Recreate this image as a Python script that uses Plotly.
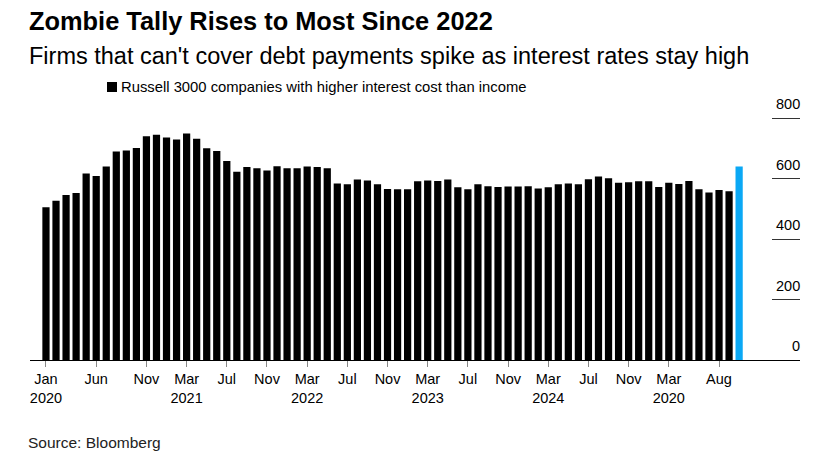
import plotly.graph_objects as go

# Monthly counts, Jan 2020 .. Oct 2025
values = [505, 527, 546, 552, 617, 609, 640, 690, 693, 701, 740, 745,
          736, 729, 749, 732, 700, 691, 658, 623, 638, 634, 627, 641,
          634, 634, 640, 638, 634, 584, 581, 597, 594, 581, 566, 565,
          565, 591, 594, 592, 597, 571, 565, 581, 575, 572, 574, 574,
          575, 567, 571, 581, 584, 581, 598, 607, 601, 586, 588, 591,
          591, 572, 586, 582, 592, 565, 554, 562, 558, 640]
months = list(range(len(values)))
hist_x = months[:-1]
hist_y = values[:-1]
last_x = [months[-1]]
last_y = [values[-1]]

tick_pos = [0, 5, 10, 14, 18, 22, 26, 30, 34, 38, 42, 46, 50, 54, 58, 62, 67]
tick_text = ["Jan<br>2020", "Jun", "Nov", "Mar<br>2021", "Jul", "Nov",
             "Mar<br>2022", "Jul", "Nov", "Mar<br>2023", "Jul", "Nov",
             "Mar<br>2024", "Jul", "Nov", "Mar<br>2020", "Aug"]
y_ticks = [0, 200, 400, 600, 800]
y_tick_text = ["0", "200", "400", "600", "800"]

title = "Zombie Tally Rises to Most Since 2022"
subtitle = "Firms that can't cover debt payments spike as interest rates stay high"
legend_label = "Russell 3000 companies with higher interest cost than income"
source = "Source: Bloomberg"

FONT = "Liberation Sans, Arial, sans-serif"

# page body has an 8px margin
OFF = 8
W, H = 820 - OFF, 465 - OFF
L, R = 30 - OFF, W - (800 - OFF)
T, B = 100 - OFF, H - (360 - OFF)
pw = W - L - R
ph = H - T - B


def px(xp):
    return (xp - OFF - L) / pw


def py(yp):
    return (H - B - (yp - OFF)) / ph


fig = go.Figure()
fig.add_trace(go.Bar(x=hist_x, y=hist_y, marker=dict(color="#000000", line=dict(width=0)),
                     width=0.72, showlegend=False, name=legend_label))
fig.add_trace(go.Bar(x=last_x, y=last_y, marker=dict(color="#0aa8f5", line=dict(width=0)),
                     width=0.72, showlegend=False))

fig.update_layout(
    width=W, height=H,
    margin=dict(l=L, r=R, t=T, b=B),
    paper_bgcolor="white", plot_bgcolor="white",
    font=dict(family=FONT, color="#000000"),
    xaxis=dict(range=[-1.59, 75.06], tickmode="array", tickvals=tick_pos, ticktext=tick_text,
               showgrid=False, zeroline=False, showline=True, linecolor="#000000", linewidth=1,
               ticks="outside", ticklen=6, tickcolor="#888888", tickwidth=1,
               tickfont=dict(size=14.5, family=FONT, color="#000000"), fixedrange=True),
    yaxis=dict(range=[0, 860], side="right", tickmode="array", tickvals=y_ticks,
               showgrid=False, zeroline=False, showline=False,
               ticks="inside", ticklen=28, tickcolor="#333333", tickwidth=1,
               showticklabels=False),
    showlegend=False,
)

for v, t in zip(y_ticks, y_tick_text):
    fig.add_annotation(text=t, xref="paper", yref="y", x=1.0, y=v,
                       xanchor="right", yanchor="bottom", yshift=4, xshift=2, showarrow=False,
                       font=dict(size=14.5, family=FONT, color="#000000"))

fig.add_annotation(text="<b>" + title + "</b>", xref="paper", yref="paper",
                   x=px(27), y=py(21), xanchor="left", yanchor="middle", showarrow=False,
                   font=dict(size=25.4, family=FONT, color="#000000"))
fig.add_annotation(text=subtitle, xref="paper", yref="paper",
                   x=px(27), y=py(56), xanchor="left", yanchor="middle", showarrow=False,
                   font=dict(size=23.5, family=FONT, color="#000000"))
fig.add_shape(type="rect", xref="paper", yref="paper",
              x0=px(107), x1=px(117), y0=py(92), y1=py(82),
              fillcolor="#000000", line=dict(width=0))
fig.add_annotation(text=legend_label, xref="paper", yref="paper",
                   x=px(119), y=py(87), xanchor="left", yanchor="middle", showarrow=False,
                   font=dict(size=14.8, family=FONT, color="#000000"))
fig.add_annotation(text=source, xref="paper", yref="paper",
                   x=px(26), y=py(442), xanchor="left", yanchor="middle", showarrow=False,
                   font=dict(size=15.5, family=FONT, color="#222222"))

fig.write_html("out.html")
